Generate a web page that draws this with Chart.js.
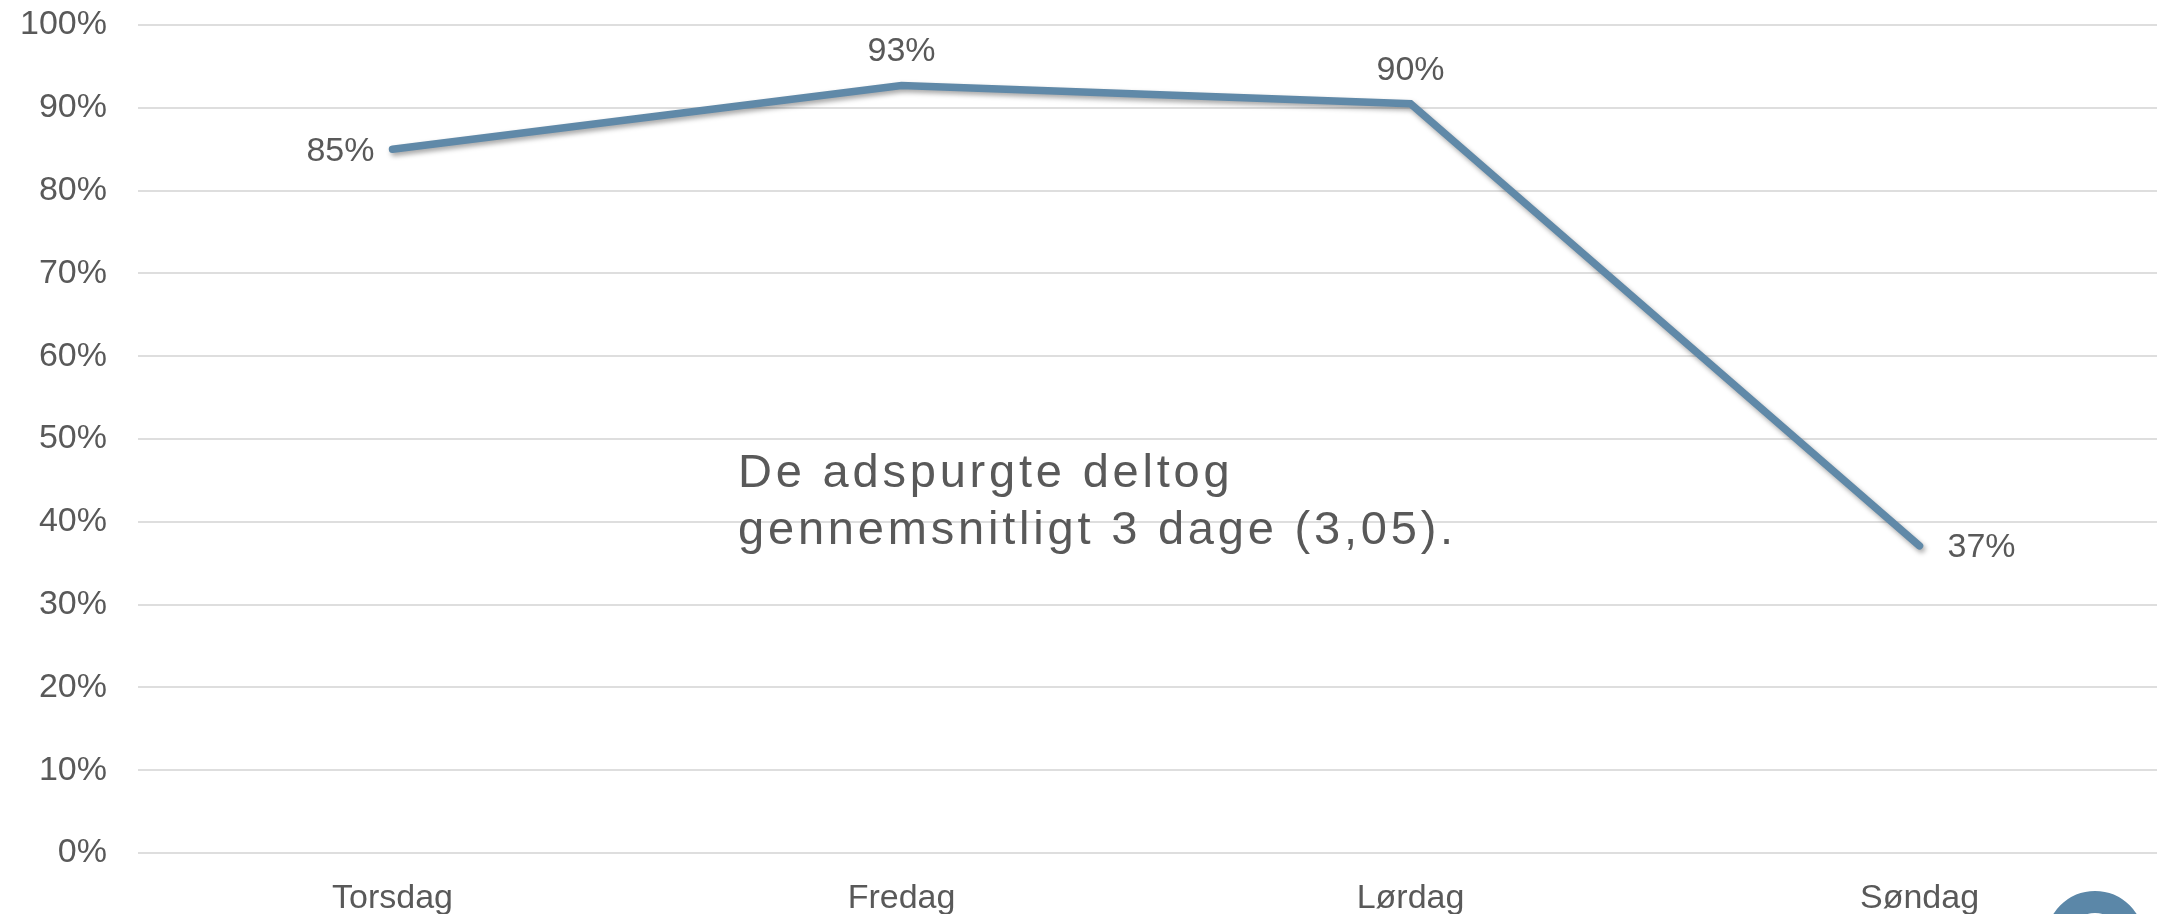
<!DOCTYPE html>
<html>
<head>
<meta charset="utf-8">
<script src="https://cdn.jsdelivr.net/npm/chart.js@4.4.1/dist/chart.umd.min.js"></script>
<style>
  html, body { margin: 0; padding: 0; background: #ffffff; overflow: hidden; }
  #wrap { width: 2174px; height: 914px; }
</style>
</head>
<body>
<div id="wrap"><canvas id="c" width="2174" height="914"></canvas></div>
<script>
const categories = ['Torsdag', 'Fredag', 'Lørdag', 'Søndag'];
const values = [85, 92.7, 90.5, 37.1];
const valueLabels = ['85%', '93%', '90%', '37%'];
const labelPlacement = ['left', 'above', 'above', 'right'];
const yTicks = [0, 10, 20, 30, 40, 50, 60, 70, 80, 90, 100];
const noteLines = ['De adspurgte deltog', 'gennemsnitligt 3 dage (3,05).'];

const TEXT = '#595959';
const LINE = '#6089a8';
const FONT = '"Liberation Sans", Arial, sans-serif';

const shadowPlugin = {
  id: 'shadow',
  beforeDatasetDraw(chart) {
    const ctx = chart.ctx;
    ctx.save();
    ctx.shadowColor = 'rgba(0,0,0,0.35)';
    ctx.shadowBlur = 5;
    ctx.shadowOffsetX = 2;
    ctx.shadowOffsetY = 3;
  },
  afterDatasetDraw(chart) { chart.ctx.restore(); }
};

const labelsPlugin = {
  id: 'valueLabels',
  afterDatasetsDraw(chart) {
    const ctx = chart.ctx;
    const meta = chart.getDatasetMeta(0);
    ctx.save();
    ctx.font = '34px ' + FONT;
    ctx.fillStyle = TEXT;
    meta.data.forEach((pt, i) => {
      const p = labelPlacement[i];
      if (p === 'left') {
        ctx.textAlign = 'right'; ctx.textBaseline = 'middle';
        ctx.fillText(valueLabels[i], pt.x - 18, pt.y + 2);
      } else if (p === 'right') {
        ctx.textAlign = 'left'; ctx.textBaseline = 'middle';
        ctx.fillText(valueLabels[i], pt.x + 28, pt.y + 2);
      } else {
        ctx.textAlign = 'center'; ctx.textBaseline = 'alphabetic';
        ctx.fillText(valueLabels[i], pt.x, pt.y - 24);
      }
    });
    // annotation text
    ctx.font = '47px ' + FONT;
    ctx.textAlign = 'left'; ctx.textBaseline = 'alphabetic';
    if ('letterSpacing' in ctx) ctx.letterSpacing = '3.8px';
    ctx.fillText(noteLines[0], 738, 487);
    ctx.fillText(noteLines[1], 738, 544);
    if ('letterSpacing' in ctx) ctx.letterSpacing = '0px';
    // partial logo ring
    ctx.beginPath();
    ctx.strokeStyle = '#5b87a8';
    ctx.lineWidth = 22;
    ctx.arc(2095, 940, 38, 0, Math.PI * 2);
    ctx.stroke();
    ctx.restore();
  }
};

new Chart(document.getElementById('c'), {
  type: 'line',
  data: {
    labels: categories,
    datasets: [{
      data: values,
      borderColor: LINE,
      borderWidth: 7.5,
      pointRadius: 0,
      tension: 0,
      fill: false,
      borderJoinStyle: 'miter',
      borderCapStyle: 'round'
    }]
  },
  options: {
    responsive: false,
    animation: false,
    layout: { padding: { top: 25, right: 0, bottom: 0, left: 0 } },
    plugins: { legend: { display: false }, tooltip: { enabled: false } },
    scales: {
      x: {
        offset: true,
        grid: { display: false },
        border: { display: false },
        ticks: { color: TEXT, font: { size: 34, family: FONT }, padding: 17, maxRotation: 0 },
        afterFit(s) { s.height = 61; s.paddingLeft = 0; s.paddingRight = 0; }
      },
      y: {
        min: 0, max: 100,
        afterBuildTicks(s) { s.ticks = yTicks.map(v => ({ value: v })); },
        grid: { color: '#dedede', lineWidth: 2, drawTicks: false },
        border: { display: false },
        ticks: { color: TEXT, font: { size: 34, family: FONT }, padding: 31, callback: v => v + '%' },
        afterFit(s) { s.width = 138; s.paddingTop = 0; s.paddingBottom = 0; }
      }
    }
  },
  plugins: [shadowPlugin, labelsPlugin]
});
</script>
</body>
</html>
